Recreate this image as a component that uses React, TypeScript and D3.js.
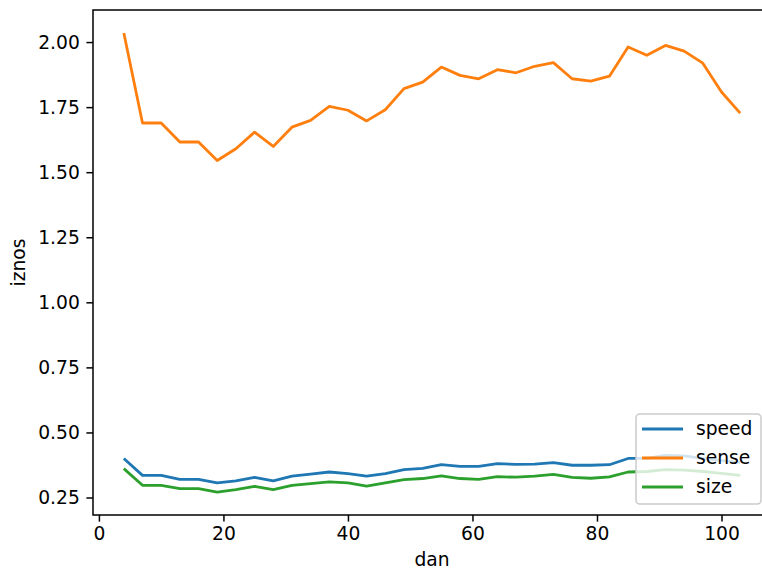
import React, { useEffect, useRef } from 'react';
import * as d3 from 'd3';

// days on x axis
const days = [4, 7, 10, 13, 16, 19, 22, 25, 28, 31, 34, 37, 40, 43, 46, 49, 52, 55, 58, 61, 64, 67, 70, 73, 76, 79, 82, 85, 88, 91, 94, 97, 100, 103];

const speed = [0.400, 0.335, 0.335, 0.320, 0.320, 0.306, 0.314, 0.327, 0.314, 0.332, 0.340, 0.348, 0.342, 0.332, 0.342, 0.357, 0.362, 0.376, 0.370, 0.370, 0.380, 0.377, 0.378, 0.384, 0.374, 0.374, 0.376, 0.400, 0.400, 0.412, 0.410, 0.400, 0.392, 0.385];
const sense = [2.035, 1.689, 1.689, 1.616, 1.616, 1.545, 1.590, 1.654, 1.599, 1.673, 1.699, 1.753, 1.738, 1.697, 1.740, 1.821, 1.846, 1.904, 1.872, 1.859, 1.894, 1.882, 1.907, 1.921, 1.859, 1.850, 1.869, 1.981, 1.949, 1.987, 1.965, 1.919, 1.808, 1.727];
const size = [0.361, 0.297, 0.297, 0.284, 0.284, 0.271, 0.280, 0.293, 0.280, 0.297, 0.303, 0.310, 0.306, 0.294, 0.306, 0.319, 0.323, 0.333, 0.323, 0.320, 0.330, 0.328, 0.332, 0.339, 0.327, 0.324, 0.329, 0.348, 0.350, 0.357, 0.355, 0.350, 0.343, 0.335];

const seriesNames = ['speed', 'sense', 'size'];
const colors = ['#1f77b4', '#ff7f0e', '#2ca02c'];
const xTicks = [0, 20, 40, 60, 80, 100];
const yTicks = [0.25, 0.5, 0.75, 1.0, 1.25, 1.5, 1.75, 2.0];

const App = () => {
    const ref = useRef<SVGSVGElement>(null);

    useEffect(() => {
        const svg = d3.select(ref.current);
        svg.selectAll('*').remove();

        const left = 93, right = 771, top = 10, bottom = 515;
        const fs = 18.7;
        const font = 'DejaVu Sans';

        // matplotlib style 5% margins
        const xExt = d3.extent(days) as [number, number];
        const xPad = (xExt[1] - xExt[0]) * 0.05;
        const all = speed.concat(sense, size);
        const yExt = d3.extent(all) as [number, number];
        const yPad = (yExt[1] - yExt[0]) * 0.05;

        const x = d3.scaleLinear().domain([xExt[0] - xPad, xExt[1] + xPad]).range([left, right]);
        const y = d3.scaleLinear().domain([yExt[0] - yPad, yExt[1] + yPad]).range([bottom, top]);

        const data = [speed, sense, size];
        const line = d3.line<number>()
            .x((d, i) => x(days[i]))
            .y((d) => y(d));

        data.forEach((vals, k) => {
            svg.append('path')
                .attr('d', line(vals))
                .attr('fill', 'none')
                .attr('stroke', colors[k])
                .attr('stroke-width', 2.8)
                .attr('stroke-linejoin', 'round')
                .attr('stroke-linecap', 'butt');
        });

        // spines
        const spine = svg.append('g').attr('stroke', '#000').attr('stroke-width', 1.5).attr('fill', 'none');
        spine.append('rect').attr('x', left).attr('y', top).attr('width', right - left).attr('height', bottom - top)
            .attr('stroke-linejoin', 'miter');

        // x axis
        const xAxis = svg.append('g').attr('transform', `translate(0,${bottom})`)
            .call(d3.axisBottom(x).tickValues(xTicks).tickSize(6.6).tickPadding(5).tickSizeOuter(0).tickFormat(d3.format('d')));
        xAxis.select('.domain').remove();
        xAxis.selectAll('line').attr('stroke-width', 1.5);
        xAxis.selectAll('text').attr('font-size', fs).attr('font-family', font).attr('fill', '#000');

        // y axis
        const yAxis = svg.append('g').attr('transform', `translate(${left},0)`)
            .call(d3.axisLeft(y).tickValues(yTicks).tickSize(6.6).tickPadding(6.6).tickSizeOuter(0).tickFormat(d3.format('.2f')));
        yAxis.select('.domain').remove();
        yAxis.selectAll('line').attr('stroke-width', 1.5);
        yAxis.selectAll('text').attr('font-size', fs).attr('font-family', font).attr('fill', '#000');

        // axis labels
        svg.append('text').attr('x', (left + right) / 2).attr('y', 566).attr('text-anchor', 'middle')
            .attr('font-size', fs).attr('font-family', font).text('dan');
        svg.append('text').attr('transform', `translate(25,${(top + bottom) / 2}) rotate(-90)`).attr('text-anchor', 'middle')
            .attr('font-size', fs).attr('font-family', font).text('iznos');

        // legend
        const lg = svg.append('g');
        lg.append('rect').attr('x', 636).attr('y', 414).attr('width', 125).attr('height', 90).attr('rx', 3.8)
            .attr('fill', '#fff').attr('fill-opacity', 0.8).attr('stroke', '#cccccc').attr('stroke-width', 1.5);
        seriesNames.forEach((name, k) => {
            const cy = 429 + k * 29;
            lg.append('line').attr('x1', 642).attr('x2', 683).attr('y1', cy).attr('y2', cy)
                .attr('stroke', colors[k]).attr('stroke-width', 2.8);
            lg.append('text').attr('x', 696).attr('y', cy + 6).attr('font-size', fs).attr('font-family', font).text(name);
        });
    }, []);

    return (
        <svg ref={ref} width={762} height={571} style={{ position: 'absolute', left: 0, top: 0, background: '#fff' }} />
    );
};

export default App;
